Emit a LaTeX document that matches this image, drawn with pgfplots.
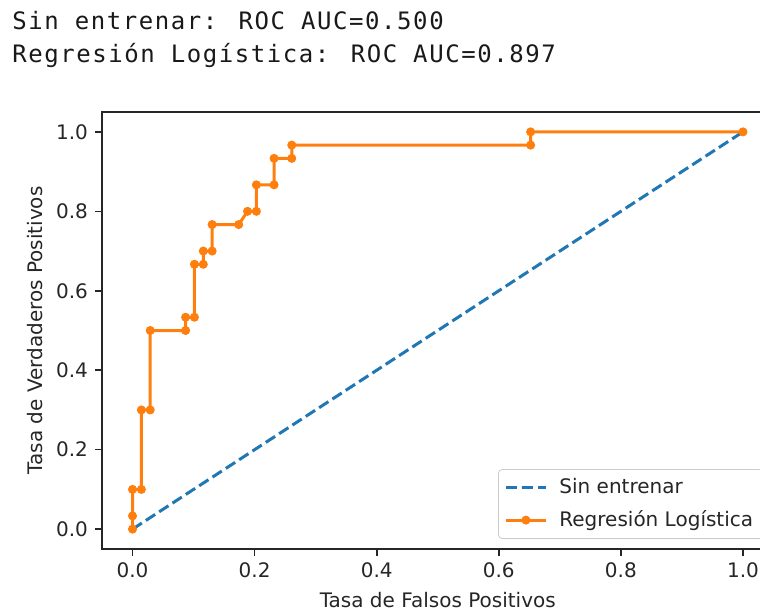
\documentclass[border=0pt]{standalone}
\usepackage{pgfplots}
\pgfplotsset{compat=1.18}
\usepackage{fontspec}
\setmainfont{DejaVu Sans}
\newfontfamily\monofont{DejaVu Sans Mono}[LetterSpace=6.5]
\definecolor{mplblue}{HTML}{1F77B4}
\definecolor{mplorange}{HTML}{FF7F0E}
\begin{document}
\begin{tikzpicture}
\useasboundingbox (-51pt,-31.5pt) rectangle (329pt,274.5pt);
\begin{pgfinterruptboundingbox}
\begin{axis}[
  at={(0,0)}, anchor=south west,
  scale only axis,
  width=335.75pt, height=218.5pt,
  xmin=-0.05, xmax=1.05, ymin=-0.05, ymax=1.05,
  xtick={0,0.2,0.4,0.6,0.8,1.0},
  ytick={0,0.2,0.4,0.6,0.8,1.0},
  tick pos=left,
  tick align=outside,
  major tick length=3.5pt,
  every tick/.style={black!85, line width=0.8pt},
  axis line style={line width=0.8pt, black!85},
  /pgf/number format/assume math mode=true,
  /pgf/number format/fixed,
  /pgf/number format/fixed zerofill,
  /pgf/number format/precision=1,
  ticklabel style={font=\fontsize{10}{12}\selectfont, text=black!85},
  xlabel={Tasa de Falsos Positivos},
  ylabel={Tasa de Verdaderos Positivos},
  label style={font=\fontsize{10}{12}\selectfont, text=black!85},
  legend style={at={(1,0)}, anchor=south east, xshift=-5pt, yshift=5pt,
    rounded corners=2pt, draw=black!20, fill=white,
    font=\fontsize{10}{12}\selectfont, text=black!85,
    inner xsep=3pt, inner ysep=2.5pt, row sep=3pt,
    /tikz/every odd column/.append style={column sep=4pt}},
  legend cell align=left,
  legend image code/.code={\draw[mark repeat=2,mark phase=2] plot coordinates {(0pt,0pt) (10pt,0pt) (20pt,0pt)};},
]
\addplot[mplblue, line width=1.5pt, dash pattern=on 5.55pt off 2.4pt] coordinates {(0,0) (1,1)};
\addlegendentry{Sin entrenar}
\addplot[mplorange, line width=1.5pt, line join=round, mark=*, mark size=2pt,
  mark options={solid, fill=mplorange, draw=mplorange, line width=0.5pt}] coordinates {
(0,0) (0,0.03333) (0,0.1) (0.01449,0.1) (0.01449,0.3) (0.02899,0.3)
(0.02899,0.5) (0.08696,0.5) (0.08696,0.53333) (0.10145,0.53333)
(0.10145,0.66667) (0.11594,0.66667) (0.11594,0.7) (0.13043,0.7)
(0.13043,0.76667) (0.17391,0.76667) (0.18841,0.8) (0.20290,0.8)
(0.20290,0.86667) (0.23188,0.86667) (0.23188,0.93333) (0.26087,0.93333)
(0.26087,0.96667) (0.65217,0.96667) (0.65217,1) (1,1)
};
\addlegendentry{Regresión Logística}
\end{axis}
\end{pgfinterruptboundingbox}
\node[anchor=base west, inner sep=0pt, text=black!90] at (-45pt,259.5pt) {\fontsize{12}{14}\monofont Sin entrenar: ROC AUC=0.500};
\node[anchor=base west, inner sep=0pt, text=black!90] at (-45pt,243pt) {\fontsize{12}{14}\monofont Regresión Logística: ROC AUC=0.897};
\end{tikzpicture}
\end{document}
